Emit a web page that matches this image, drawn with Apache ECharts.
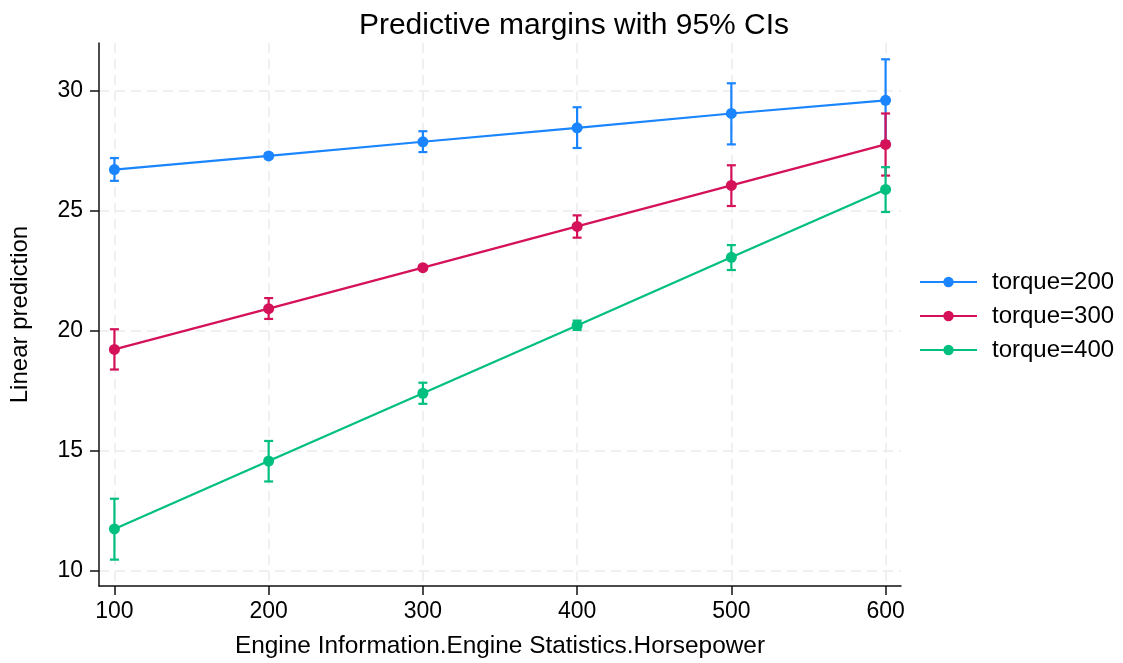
<!DOCTYPE html>
<html>
<head>
<meta charset="utf-8">
<script src="https://cdn.jsdelivr.net/npm/echarts@6/dist/echarts.min.js"></script>
<style>html,body{margin:0;padding:0;background:#fff}#c{width:1123px;height:663px}</style>
</head>
<body>
<div id="c"></div>
<script>
var horsepower = [100, 200, 300, 400, 500, 600];
var seriesNames = ['torque=200', 'torque=300', 'torque=400'];
var margin200 = [26.72, 27.29, 27.88, 28.46, 29.06, 29.61];
var lo200 = [26.25, 27.19, 27.45, 27.62, 27.77, 27.90];
var hi200 = [27.20, 27.39, 28.32, 29.32, 30.32, 31.32];
var margin300 = [19.22, 20.92, 22.63, 24.35, 26.06, 27.77];
var lo300 = [18.38, 20.49, 22.55, 23.88, 25.20, 26.47];
var hi300 = [20.06, 21.36, 22.71, 24.81, 26.90, 29.06];
var margin400 = [11.73, 14.56, 17.39, 20.22, 23.06, 25.89];
var lo400 = [10.45, 13.71, 16.95, 20.03, 22.53, 24.95];
var hi400 = [12.99, 15.40, 17.83, 20.42, 23.57, 26.82];
var yTicks = [10, 15, 20, 25, 30];
var xTicks = [100, 200, 300, 400, 500, 600];
var colors = ['#1a85ff', '#d41159', '#00bf7f'];

var margins = [margin200, margin300, margin400];
var los = [lo200, lo300, lo400];
var his = [hi200, hi300, hi400];
var FONT = '"Liberation Sans", Arial, Helvetica, sans-serif';

var series = [];
seriesNames.forEach(function (name, i) {
  var ciData = horsepower.map(function (x, k) { return [x, los[i][k], his[i][k]]; });
  series.push({
    name: name + ' CI',
    type: 'custom',
    data: ciData,
    z: 2,
    silent: true,
    renderItem: function (params, api) {
      var x = api.value(0);
      var pLo = api.coord([x, api.value(1)]);
      var pHi = api.coord([x, api.value(2)]);
      var cap = 4.5;
      var st = { stroke: colors[i], lineWidth: 2.2 };
      return {
        type: 'group',
        children: [
          { type: 'line', shape: { x1: pLo[0], y1: pLo[1], x2: pHi[0], y2: pHi[1] }, style: st },
          { type: 'line', shape: { x1: pLo[0] - cap, y1: pLo[1], x2: pLo[0] + cap, y2: pLo[1] }, style: st },
          { type: 'line', shape: { x1: pHi[0] - cap, y1: pHi[1], x2: pHi[0] + cap, y2: pHi[1] }, style: st }
        ]
      };
    }
  });
  series.push({
    name: name,
    type: 'line',
    data: horsepower.map(function (x, k) { return [x, margins[i][k]]; }),
    symbol: 'circle',
    symbolSize: 11,
    showSymbol: true,
    z: 3,
    lineStyle: { color: colors[i], width: 2.2 },
    itemStyle: { color: colors[i] },
    emphasis: { disabled: true }
  });
});

var chart = echarts.init(document.getElementById('c'), null, { renderer: 'canvas' });
chart.setOption({
  animation: false,
  backgroundColor: '#ffffff',
  textStyle: { fontFamily: FONT },
  title: {
    text: 'Predictive margins with 95% CIs',
    left: 569,
    textAlign: 'center',
    top: 6,
    textStyle: { fontFamily: FONT, fontSize: 30, fontWeight: 'normal', color: '#000' }
  },
  legend: {
    data: seriesNames,
    orient: 'vertical',
    left: 914,
    top: 265,
    itemWidth: 57,
    itemHeight: 13,
    itemGap: 10,
    textStyle: { fontFamily: FONT, fontSize: 24, color: '#000', padding: [0, 0, 0, 10] }
  },
  grid: { left: 97, right: 222, top: 43, bottom: 76, containLabel: false },
  xAxis: {
    type: 'value',
    min: 90,
    max: 610,
    name: 'Engine Information.Engine Statistics.Horsepower',
    nameLocation: 'middle',
    nameGap: 48,
    nameTextStyle: { fontFamily: FONT, fontSize: 24.4, color: '#000' },
    axisLine: { show: true, lineStyle: { color: '#111', width: 1.5 } },
    axisTick: { show: true, length: 9, customValues: xTicks, lineStyle: { color: '#111', width: 1.5 } },
    axisLabel: { customValues: xTicks, fontFamily: FONT, fontSize: 23, color: '#000', margin: 14 },
    splitLine: { show: true, lineStyle: { color: '#ebebeb', width: 1.5, type: [10, 6] } }
  },
  yAxis: {
    type: 'value',
    min: 9.35,
    max: 32,
    name: 'Linear prediction',
    nameLocation: 'middle',
    nameGap: 67,
    nameTextStyle: { fontFamily: FONT, fontSize: 24, color: '#000' },
    axisLine: { show: true, lineStyle: { color: '#111', width: 1.5 } },
    axisTick: { show: true, length: 9, customValues: yTicks, lineStyle: { color: '#111', width: 1.5 } },
    axisLabel: { customValues: yTicks, fontFamily: FONT, fontSize: 23, color: '#000', margin: 16 },
    splitLine: { show: true, lineStyle: { color: '#ebebeb', width: 1.5, type: [10, 6] } }
  },
  series: series
});
</script>
</body>
</html>
